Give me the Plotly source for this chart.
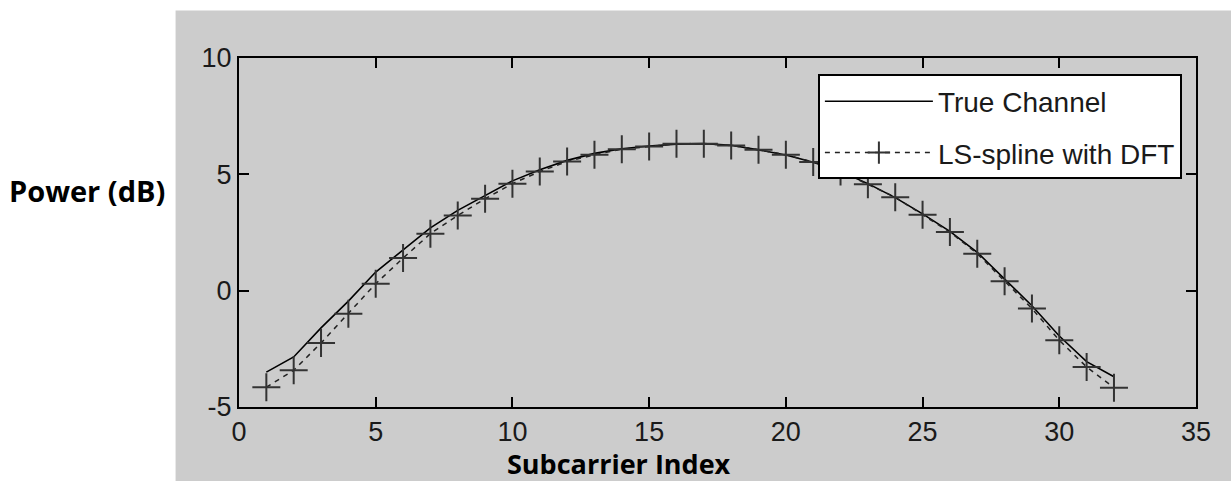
import plotly.graph_objects as go

subcarrier = list(range(1, 33))
true_channel = [-3.5, -2.85, -1.6, -0.45, 0.8, 1.75, 2.7, 3.45, 4.1, 4.72, 5.2, 5.6,
                5.9, 6.1, 6.22, 6.3, 6.32, 6.25, 6.05, 5.83, 5.52, 5.12, 4.6, 4.0,
                3.3, 2.55, 1.65, 0.5, -0.65, -1.95, -3.05, -3.7]
ls_spline_dft = [-4.15, -3.42, -2.25, -0.99, 0.30, 1.4, 2.45, 3.23, 3.95, 4.6, 5.12, 5.55,
                 5.84, 6.08, 6.2, 6.31, 6.31, 6.24, 6.06, 5.84, 5.53, 5.12, 4.57, 4.02,
                 3.26, 2.52, 1.59, 0.4, -0.77, -2.13, -3.28, -4.17]
x_ticks = [0, 5, 10, 15, 20, 25, 30, 35]
x_ticktext = ["0", "5", "10", "15", "20", "25", "30", "35"]
y_ticks = [-5, 0, 5, 10]
y_ticktext = ["-5", "0", "5", "10"]

W, H = 1231, 481
L, R, T, B = 238.5, 1196.5, 57.5, 406.7
pw, ph = R - L, B - T

tick_font = dict(family="Liberation Sans, Arial", size=27, color="#1a1a1a")
legend_font = dict(family="Liberation Sans, Arial", size=28, color="#1a1a1a")

fig = go.Figure()
fig.add_trace(go.Scatter(
    x=subcarrier, y=true_channel, mode="lines", name="True Channel",
    legendgroup="a",
    line=dict(color="black", width=1.6)))
fig.add_trace(go.Scatter(
    x=subcarrier, y=ls_spline_dft, mode="lines+markers", name="LS-spline with DFT",
    legendgroup="b",
    line=dict(color="#222222", width=1.5, dash="5px,5px"),
    marker=dict(symbol="cross-thin", size=20, line=dict(color="#333333", width=2))))

def px2paper_x(px):
    return (px - L) / pw

def py2paper_y(py):
    return (B - py) / ph

fig.add_shape(type="rect", xref="paper", yref="paper",
              x0=px2paper_x(175), x1=px2paper_x(1240), y0=py2paper_y(490), y1=py2paper_y(10),
              fillcolor="#cccccc", line=dict(width=0), layer="below")

fig.update_layout(
    width=W, height=H,
    margin=dict(l=L, r=W - R, t=T, b=H - B, pad=0),
    paper_bgcolor="white", plot_bgcolor="white",
    showlegend=True,
    legend=dict(x=px2paper_x(818), y=py2paper_y(74), xanchor="left", yanchor="top",
                bgcolor="white", bordercolor="black", borderwidth=2,
                font=legend_font, itemwidth=108, traceorder="grouped",
                tracegroupgap=12),
    xaxis=dict(range=[0, 35], tickvals=x_ticks, ticktext=x_ticktext,
               showgrid=False, zeroline=False,
               showline=True, linecolor="black", linewidth=2, mirror="ticks",
               ticks="inside", ticklen=10, tickwidth=1.5, tickcolor="black",
               tickfont=tick_font),
    yaxis=dict(range=[-5, 10], tickvals=y_ticks, ticktext=y_ticktext,
               showgrid=False, zeroline=False,
               showline=True, linecolor="black", linewidth=2, mirror="ticks",
               ticks="inside", ticklen=10, tickwidth=1.5, tickcolor="black",
               tickfont=tick_font),
    annotations=[
        dict(text="<b>Power (dB)</b>", xref="paper", yref="paper",
             x=px2paper_x(86), y=py2paper_y(190), showarrow=False,
             font=dict(family="Open Sans", size=29, color="black"),
             xanchor="center", yanchor="middle"),
        dict(text="<b>Subcarrier Index</b>", xref="paper", yref="paper",
             x=px2paper_x(619), y=py2paper_y(463), showarrow=False,
             font=dict(family="Open Sans", size=27, color="black"),
             xanchor="center", yanchor="middle"),
    ],
)

fig.write_html("out.html")
